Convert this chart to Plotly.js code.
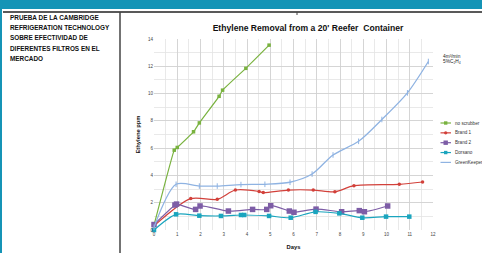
<!DOCTYPE html>
<html>
<head>
<meta charset="utf-8">
<script src="https://cdn.plot.ly/plotly-3.0.1.min.js"></script>
<style>
html,body{margin:0;padding:0;background:#fff;}
#chart{width:482px;height:253px;}
</style>
</head>
<body>
<div id="chart"></div>
<script>
// ---- data ----
const seriesNames = ["no scrubber", "Brand 1", "Brand 2", "Dorsano", "GreenKeeper"];

const daysNoScrubber = [0, 0.87, 1.0, 1.7, 1.95, 2.8, 2.95, 3.95, 4.95];
const ppmNoScrubber  = [0.35, 5.85, 6.05, 7.2, 7.85, 9.8, 10.25, 11.85, 13.55];

const daysBrand1 = [0, 1.58, 2.72, 3.5, 4.52, 4.7, 5.78, 6.85, 7.78, 8.6, 10.55, 11.55];
const ppmBrand1  = [0.3, 2.3, 2.25, 2.93, 2.82, 2.74, 2.93, 2.93, 2.8, 3.25, 3.35, 3.52];

const daysBrand2 = [0, 0.9, 0.97, 1.79, 1.98, 3.2, 4.24, 4.85, 5.02, 5.82, 6.02, 6.97, 8.07, 8.83, 9.05, 10.05];
const ppmBrand2  = [0.4, 1.83, 1.9, 1.51, 1.76, 1.39, 1.51, 1.51, 1.78, 1.39, 1.3, 1.53, 1.34, 1.42, 1.34, 1.76];

const daysDorsano = [0, 0.95, 1.95, 2.88, 3.74, 3.88, 4.95, 5.88, 6.95, 7.97, 8.96, 9.98, 10.98];
const ppmDorsano  = [0, 1.15, 1.05, 1.03, 1.1, 1.1, 1.03, 0.9, 1.33, 1.22, 0.9, 0.98, 0.98];

const daysGreenKeeper = [0, 0.95, 1.95, 2.72, 3.74, 4.77, 5.85, 6.8, 7.7, 8.8, 9.8, 10.9, 11.8];
const ppmGreenKeeper  = [0.2, 3.35, 3.22, 3.22, 3.33, 3.35, 3.5, 4.1, 5.5, 6.5, 8.1, 10.05, 12.35];

const xTickVals = [0,1,2,3,4,5,6,7,8,9,10,11,12];
const yTickVals = [0,2,4,6,8,10,12,14];

const sideTextLines = ["PRUEBA DE LA CAMBRIDGE", "REFRIGERATION TECHNOLOGY", "SOBRE EFECTIVIDAD DE", "DIFERENTES FILTROS EN EL", "MERCADO"];
const chartTitle = "Ethylene Removal from a 20' Reefer  Container";
const flowNote = ["4m\u00B3/min", "5%C\u2082H\u2084"];

// ---- styles ----
const colors = ["#79b23f", "#d2403a", "#7d5da6", "#1aa5be", "#8fb3e2"];
const symbols = ["square", "circle", "square", "square", "line-ns-open"];
const msizes = [3.5, 3.5, 5.5, 4.5, 4];

// ---- geometry ----
const W = 482, H = 253;
const L = 154, R = 433, T = 39, B = 230;
const px = x => (x - L) / (R - L);
const py = y => (B - y) / (B - T);

const xs = [daysNoScrubber, daysBrand1, daysBrand2, daysDorsano, daysGreenKeeper];
const ys = [ppmNoScrubber, ppmBrand1, ppmBrand2, ppmDorsano, ppmGreenKeeper];

const traces = seriesNames.map((n, i) => ({
  type: "scatter", mode: "lines+markers", name: n,
  x: xs[i], y: ys[i],
  line: {color: colors[i], width: i === 4 ? 1.3 : 1.2, shape: "spline", smoothing: i === 0 ? 0.3 : 0.8},
  marker: {color: colors[i], symbol: symbols[i], size: msizes[i], line: {color: colors[i], width: i === 4 ? 1 : 0}},
  showlegend: false, cliponaxis: false
}));

const shapes = [
  // teal band and stripe
  {type: "rect", xref: "paper", yref: "paper", x0: px(0), x1: px(W), y0: py(0), y1: py(9), fillcolor: "#1594b6", line: {width: 0}, layer: "below"},
  {type: "rect", xref: "paper", yref: "paper", x0: px(0), x1: px(2), y0: py(0), y1: py(H), fillcolor: "#1594b6", line: {width: 0}, layer: "below"},
  {type: "line", xref: "paper", yref: "paper", x0: px(3), x1: px(W), y0: py(12), y1: py(12), line: {color: "#222", width: 1.3}},
  {type: "line", xref: "paper", yref: "paper", x0: px(120), x1: px(120), y0: py(12), y1: py(H), line: {color: "#444", width: 1.5}},
  {type: "line", xref: "paper", yref: "paper", x0: px(297), x1: px(297), y0: py(12), y1: py(15), line: {color: "#444", width: 1}}
];

const annotations = [];
sideTextLines.forEach((t, i) => {
  annotations.push({xref: "paper", yref: "paper", x: px(8), y: py(17.3 + i * 10.3), xanchor: "left", yanchor: "middle",
    text: "<b>" + t + "</b>", showarrow: false, font: {family: "Liberation Sans, Arial", size: 6.4, color: "#111"}});
});
flowNote.forEach((t, i) => {
  annotations.push({xref: "paper", yref: "paper", x: px(452), y: py(56 + i * 5.5), xanchor: "center", yanchor: "middle",
    text: t, showarrow: false, font: {family: "Liberation Sans", size: 4.8, color: "#222"}});
});
// manual legend
seriesNames.forEach((n, i) => {
  const yy = 123 + i * 9.85;
  shapes.push({type: "line", xref: "paper", yref: "paper", x0: px(440.5), x1: px(451), y0: py(yy), y1: py(yy), line: {color: colors[i], width: 1.2}});
  if (i < 4) {
    const s = i === 2 ? 2.2 : 1.7;
    shapes.push({type: i === 1 ? "circle" : "rect", xref: "paper", yref: "paper", x0: px(445.7 - s), x1: px(445.7 + s), y0: py(yy - s), y1: py(yy + s), fillcolor: colors[i], line: {width: 0}});
  }
  annotations.push({xref: "paper", yref: "paper", x: px(452.5), y: py(yy), xanchor: "left", yanchor: "middle",
    text: n, showarrow: false, font: {family: "Liberation Sans", size: 4.6, color: "#333"}});
});

const axisCommon = {
  showline: false, zeroline: false, ticks: "", showgrid: true,
  tickfont: {family: "Liberation Sans", size: 4.5, color: "#444"}
};

const layout = {
  width: W, height: H,
  margin: {l: L, r: W - R, t: T, b: H - B, pad: 0},
  paper_bgcolor: "#fff", plot_bgcolor: "#fff",
  showlegend: false,
  title: {text: "<b>" + chartTitle + "</b>", x: 308 / W, xanchor: "center", xref: "container",
    y: 1 - 27.7 / H, yanchor: "middle", yref: "container",
    font: {family: "Liberation Sans", size: 8.6, color: "#111"}},
  xaxis: Object.assign({}, axisCommon, {
    range: [0, 12], tickvals: xTickVals, ticktext: xTickVals.map(String),
    gridcolor: "#cfcfcf", gridwidth: 0.8,
    minor: {dtick: 0.5, showgrid: true, gridcolor: "#e4e4e4", gridwidth: 0.8},
    title: {text: "<b>Days</b>", font: {family: "Liberation Sans", size: 5.8, color: "#111"}, standoff: 9}
  }),
  yaxis: Object.assign({}, axisCommon, {
    range: [0, 14], tickvals: yTickVals, ticktext: yTickVals.map(String),
    gridcolor: "#cfcfcf", gridwidth: 0.8,
    minor: {dtick: 1, showgrid: true, gridcolor: "#e4e4e4", gridwidth: 0.8},
    title: {text: "<b>Ethylene ppm</b>", font: {family: "Liberation Sans", size: 5.8, color: "#111"}, standoff: 6}
  }),
  shapes: shapes,
  annotations: annotations
};

Plotly.newPlot("chart", traces, layout, {displayModeBar: false, staticPlot: true});
</script>
</body>
</html>
